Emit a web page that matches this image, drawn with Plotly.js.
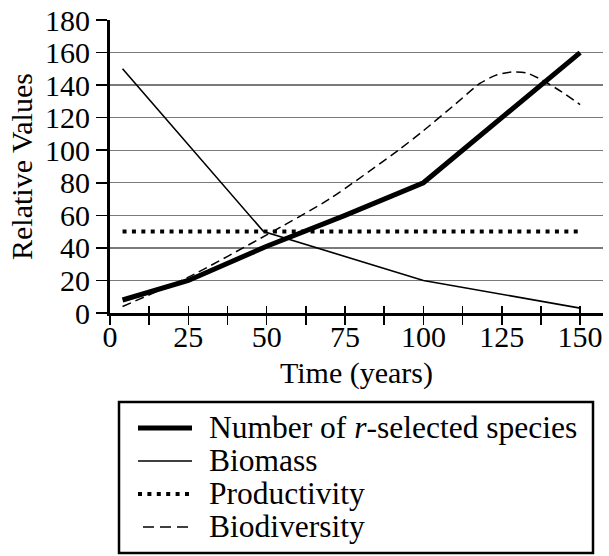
<!DOCTYPE html>
<html>
<head>
<meta charset="utf-8">
<script src="https://cdn.plot.ly/plotly-3.0.1.min.js"></script>
<style>html,body{margin:0;padding:0;background:#fff;}#chart{width:609px;height:556px;}</style>
</head>
<body>
<div id="chart"></div>
<script>
// ---- data ----
const seriesNames = ["Number of <i>r</i>-selected species", "Biomass", "Productivity", "Biodiversity"];
const rSelX = [4, 25, 50, 75, 100, 150];
const rSelY = [8, 20, 41, 60, 80, 160];
const biomassX = [4, 49, 100, 150];
const biomassY = [150, 50, 20, 3];
const prodX = [4, 150];
const prodY = [50, 50];
const bioDivX = [4, 25, 50, 70, 92, 100, 110, 118, 123, 128, 133, 138, 144, 150];
const bioDivY = [4, 22, 48, 70, 100, 112, 128, 141, 146, 148, 147.5, 143, 136, 128];
const xTickVals = [0, 12.5, 25, 37.5, 50, 62.5, 75, 87.5, 100, 112.5, 125, 137.5, 150];
const xTickText = ["0", "", "25", "", "50", "", "75", "", "100", "", "125", "", "150"];
const yTickVals = [0, 20, 40, 60, 80, 100, 120, 140, 160, 180];

// ---- layout helpers (pixel -> paper) ----
const L = 110, R = 603, T = 20, B = 313;
const px = v => (v - L) / (R - L);
const py = v => (B - v) / (B - T);
const FONT = "Liberation Serif";
const AXFS = 30, LGFS = 31.5;

const traces = [
  {x: rSelX, y: rSelY, name: seriesNames[0], mode: "lines", line: {color: "#000", width: 5}},
  {x: biomassX, y: biomassY, name: seriesNames[1], mode: "lines", line: {color: "#000", width: 1.6}},
  {x: prodX, y: prodY, name: seriesNames[2], mode: "lines", xaxis: "x2", line: {color: "#000", width: 4, dash: "4px,5.4px"}},
  {x: bioDivX, y: bioDivY, name: seriesNames[3], mode: "lines", line: {color: "#000", width: 1.5, dash: "9px,5px", shape: "spline", smoothing: 0.6}}
];

// custom legend
const rows = [428, 461, 494, 527];
const legendStyles = [
  {width: 5, dash: "solid", x0: 138},
  {width: 1.6, dash: "solid", x0: 138},
  {width: 4, dash: "4px,5.4px", x0: 138},
  {width: 1.5, dash: "11px,6px", x0: 143}
];
const shapes = [
  {type: "rect", xref: "paper", yref: "paper", x0: px(119), x1: px(593), y0: py(402), y1: py(553),
   line: {color: "#000", width: 2.5}, fillcolor: "rgba(0,0,0,0)"}
];
const annotations = [];
rows.forEach((ry, i) => {
  shapes.push({type: "line", xref: "paper", yref: "paper", x0: px(legendStyles[i].x0), x1: px(192), y0: py(ry), y1: py(ry),
    line: {color: "#000", width: legendStyles[i].width, dash: legendStyles[i].dash}});
  annotations.push({xref: "paper", yref: "paper", x: px(207), y: py(ry - 1), xanchor: "left", yanchor: "middle",
    text: seriesNames[i], showarrow: false, font: {family: FONT, size: LGFS, color: "#000"}});
});

const layout = {
  width: 609, height: 556,
  margin: {l: L, r: 609 - R, t: T, b: 556 - B},
  paper_bgcolor: "#fff", plot_bgcolor: "#fff",
  showlegend: false,
  font: {family: FONT, size: AXFS, color: "#000"},
  xaxis: {
    range: [0, 157.3], tickmode: "array", tickvals: xTickVals, ticktext: xTickText,
    ticks: "outside", ticklen: 9, tickwidth: 1.5, tickcolor: "#000", ticklabelstandoff: -14,
    showline: true, linecolor: "#000", linewidth: 3, showgrid: false, zeroline: false,
    tickfont: {family: FONT, size: AXFS, color: "#000"},
    title: {text: "Time (years)", font: {family: FONT, size: AXFS, color: "#000"}, standoff: 10}
  },
  xaxis2: {
    range: [0, 157.3], overlaying: "x", anchor: "y", side: "bottom", tickmode: "array", tickvals: xTickVals,
    ticks: "inside", ticklen: 7, tickwidth: 1.5, tickcolor: "#000",
    showticklabels: false, showline: false, showgrid: false, zeroline: false
  },
  yaxis: {
    range: [0, 180], tickmode: "array", tickvals: yTickVals,
    ticks: "outside", ticklen: 11, tickwidth: 1.5, tickcolor: "#000",
    showline: true, linecolor: "#000", linewidth: 3, showgrid: true, gridcolor: "#7a7a7a", gridwidth: 1.3, zeroline: false,
    tickfont: {family: FONT, size: AXFS, color: "#000"},
    title: {text: "Relative Values", font: {family: FONT, size: AXFS, color: "#000"}, standoff: 4}
  },
  shapes: shapes,
  annotations: annotations
};

Plotly.newPlot("chart", traces, layout, {staticPlot: true, displayModeBar: false});
</script>
</body>
</html>
